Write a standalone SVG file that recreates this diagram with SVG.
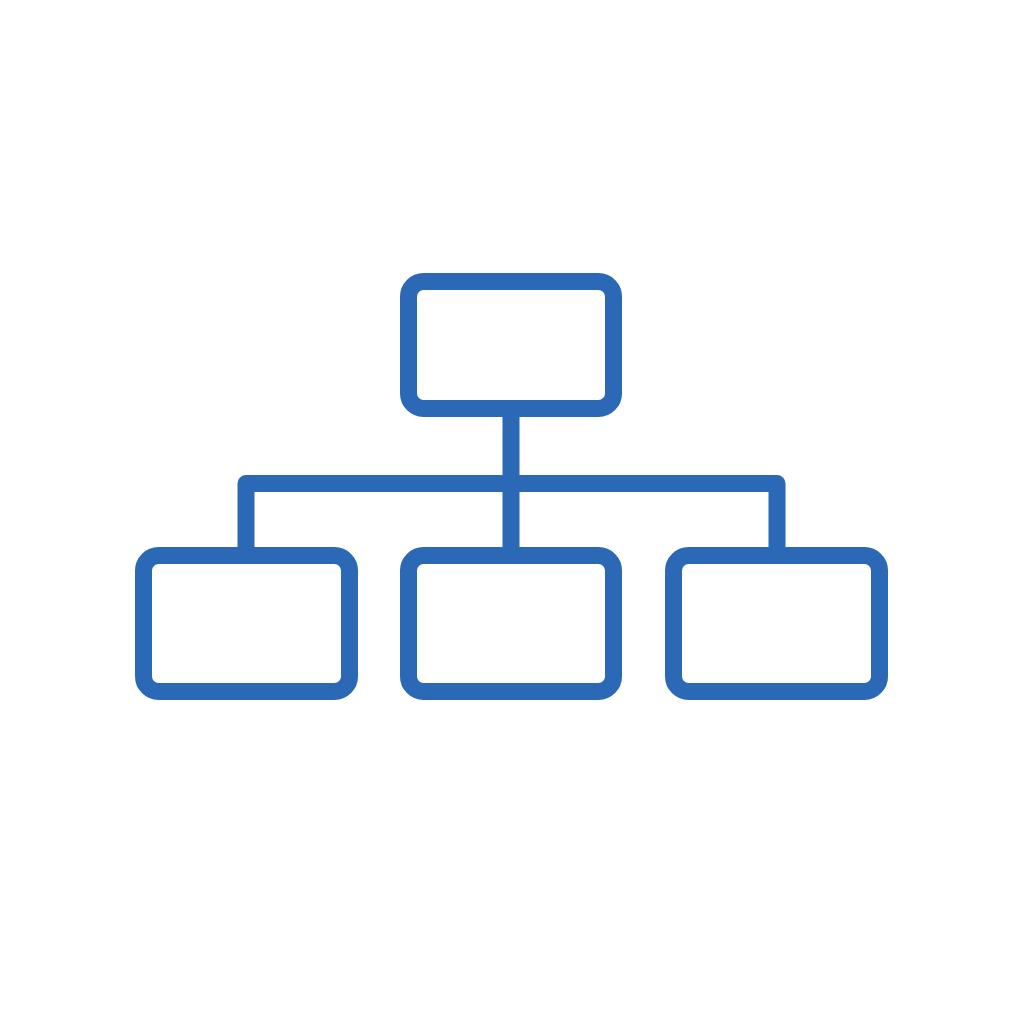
<svg xmlns="http://www.w3.org/2000/svg" width="1024" height="1024" viewBox="0 0 1024 1024">
<style>
.box{fill:#fff;stroke:#2B68B6;stroke-width:17}
.conn{fill:none;stroke:#2B68B6;stroke-width:17;stroke-linejoin:round}
</style>
<rect width="1024" height="1024" fill="#fff"/>
<g id="connectors">
<path class="conn" d="M511 408 V556"/>
<path class="conn" d="M246 556 V483.5 H777 V556"/>
</g>
<g id="node-top"><rect class="box" x="408.5" y="281.5" width="205" height="127" rx="15"/></g>
<g id="node-left"><rect class="box" x="143.5" y="555.5" width="206" height="136" rx="15"/></g>
<g id="node-middle"><rect class="box" x="408.5" y="555.5" width="205" height="136" rx="15"/></g>
<g id="node-right"><rect class="box" x="673.5" y="555.5" width="206" height="136" rx="15"/></g>
</svg>
